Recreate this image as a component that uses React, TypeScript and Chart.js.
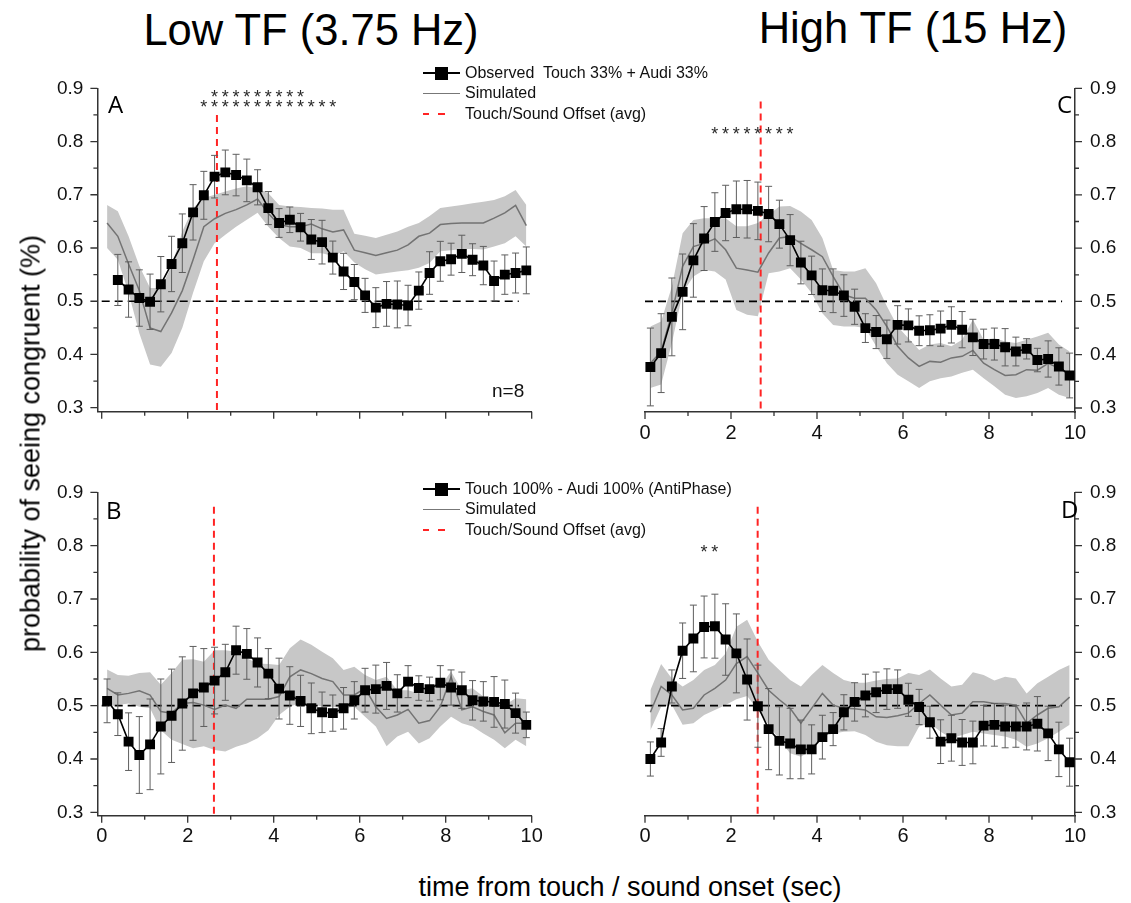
import React, { useEffect, useRef } from 'react';
import { Chart, registerables } from 'chart.js';

Chart.register(...registerables);

// ---------------- data ----------------
const timePoints = [0.125, 0.375, 0.625, 0.875, 1.125, 1.375, 1.625, 1.875, 2.125, 2.375,
  2.625, 2.875, 3.125, 3.375, 3.625, 3.875, 4.125, 4.375, 4.625, 4.875,
  5.125, 5.375, 5.625, 5.875, 6.125, 6.375, 6.625, 6.875, 7.125, 7.375,
  7.625, 7.875, 8.125, 8.375, 8.625, 8.875, 9.125, 9.375, 9.625, 9.875];

// Panel A: Low TF, Touch 33% + Audi 33%
const obsA = [null, 0.54, 0.522, 0.506, 0.499, 0.532, 0.57, 0.609, 0.667, 0.699,
  0.734, 0.742, 0.737, 0.727, 0.714, 0.675, 0.647, 0.653, 0.639, 0.616,
  0.611, 0.582, 0.556, 0.536, 0.511, 0.488, 0.495, 0.494, 0.492, 0.52,
  0.553, 0.575, 0.579, 0.589, 0.578, 0.567, 0.538, 0.55, 0.553, 0.558];
const errA = [null, 0.048, 0.052, 0.053, 0.052, 0.052, 0.052, 0.055, 0.052, 0.045,
  0.04, 0.042, 0.039, 0.04, 0.033, 0.031, 0.027, 0.024, 0.026, 0.0375,
  0.041, 0.031, 0.034, 0.033, 0.032, 0.0375, 0.042, 0.044, 0.038, 0.035,
  0.04, 0.0375, 0.03, 0.035, 0.03, 0.036, 0.0375, 0.037, 0.0375, 0.044];
const simA = [0.647, 0.622, 0.57, 0.52, 0.45, 0.443, 0.478, 0.52, 0.578, 0.64,
  0.655, 0.665, 0.672, 0.681, 0.692, 0.665, 0.644, 0.64, 0.64, 0.645,
  0.636, 0.63, 0.634, 0.596, 0.591, 0.586, 0.591, 0.596, 0.606, 0.622,
  0.628, 0.644, 0.646, 0.647, 0.647, 0.647, 0.656, 0.666, 0.68, 0.642];
const upA = [0.681, 0.669, 0.622, 0.566, 0.525, 0.525, 0.566, 0.631, 0.675, 0.694,
  0.70, 0.706, 0.712, 0.716, 0.712, 0.703, 0.681, 0.678, 0.677, 0.675,
  0.674, 0.672, 0.672, 0.627, 0.623, 0.619, 0.625, 0.631, 0.64, 0.647,
  0.66, 0.675, 0.678, 0.681, 0.684, 0.687, 0.69, 0.697, 0.709, 0.681];
const loA = [0.60, 0.578, 0.516, 0.44, 0.381, 0.377, 0.403, 0.45, 0.516, 0.575,
  0.609, 0.625, 0.64, 0.653, 0.666, 0.64, 0.619, 0.603, 0.60, 0.59,
  0.59, 0.585, 0.594, 0.573, 0.56, 0.55, 0.553, 0.556, 0.558, 0.563,
  0.572, 0.594, 0.596, 0.598, 0.598, 0.597, 0.603, 0.609, 0.622, 0.603];

// Panel C: High TF, Touch 33% + Audi 33%
const obsC = [0.377, 0.403, 0.471, 0.518, 0.577, 0.618, 0.649, 0.666, 0.673, 0.673,
  0.67, 0.664, 0.645, 0.615, 0.573, 0.549, 0.521, 0.52, 0.511, 0.49,
  0.45, 0.4425, 0.429, 0.456, 0.455, 0.445, 0.446, 0.449, 0.456, 0.447,
  0.4325, 0.42, 0.42, 0.414, 0.406, 0.411, 0.39, 0.392, 0.378, 0.361];
const errC = [0.073, 0.074, 0.073, 0.071, 0.069, 0.06, 0.055, 0.052, 0.053, 0.054,
  0.054, 0.052, 0.045, 0.048, 0.04, 0.036, 0.04, 0.041, 0.039, 0.033,
  0.027, 0.031, 0.036, 0.036, 0.031, 0.028, 0.029, 0.033, 0.034, 0.034,
  0.034, 0.028, 0.03, 0.035, 0.027, 0.019, 0.022, 0.034, 0.035, 0.042];
const simC = [0.384, 0.406, 0.478, 0.566, 0.603, 0.609, 0.6175, 0.597, 0.5625, 0.559,
  0.555, 0.591, 0.619, 0.622, 0.609, 0.597, 0.584, 0.547, 0.5125, 0.506,
  0.506, 0.484, 0.453, 0.416, 0.394, 0.378, 0.3875, 0.386, 0.394, 0.397,
  0.408, 0.384, 0.372, 0.361, 0.3625, 0.372, 0.371, 0.384, 0.375, 0.3625];
const upC = [0.453, 0.4625, 0.528, 0.628, 0.653, 0.656, 0.656, 0.656, 0.641, 0.641,
  0.647, 0.6625, 0.678, 0.679, 0.669, 0.653, 0.619, 0.559, 0.556, 0.556,
  0.5625, 0.534, 0.491, 0.453, 0.431, 0.409, 0.419, 0.422, 0.416, 0.428,
  0.466, 0.428, 0.431, 0.425, 0.422, 0.428, 0.434, 0.441, 0.419, 0.406];
const loC = [0.3375, 0.344, 0.422, 0.516, 0.547, 0.559, 0.556, 0.541, 0.484, 0.475,
  0.472, 0.553, 0.556, 0.5625, 0.541, 0.516, 0.478, 0.456, 0.453, 0.453,
  0.45, 0.416, 0.384, 0.3625, 0.35, 0.3375, 0.35, 0.356, 0.359, 0.366,
  0.372, 0.356, 0.341, 0.325, 0.319, 0.322, 0.328, 0.3375, 0.325, 0.319];

// Panel B: Low TF, Touch 100% - Audi 100% (AntiPhase)
const obsB = [0.509, 0.484, 0.4325, 0.4075, 0.4275, 0.461, 0.481, 0.504, 0.523, 0.534,
  0.547, 0.5625, 0.604, 0.597, 0.581, 0.56, 0.532, 0.519, 0.509, 0.495,
  0.4875, 0.486, 0.495, 0.51, 0.529, 0.531, 0.537, 0.523, 0.545, 0.533,
  0.531, 0.543, 0.534, 0.529, 0.51, 0.508, 0.507, 0.503, 0.486, 0.464];
const errB = [0.041, 0.04, 0.054, 0.072, 0.085, 0.089, 0.0875, 0.0875, 0.088, 0.073,
  0.0625, 0.0525, 0.045, 0.0475, 0.046, 0.047, 0.057, 0.054, 0.048, 0.0475,
  0.038, 0.034, 0.039, 0.035, 0.041, 0.045, 0.044, 0.035, 0.03, 0.023,
  0.0225, 0.032, 0.033, 0.034, 0.037, 0.037, 0.0475, 0.045, 0.0375, 0.024];
const simB = [0.5325, 0.52, 0.523, 0.528, 0.52, 0.489, 0.486, 0.504, 0.506, 0.501,
  0.493, 0.501, 0.495, 0.512, 0.512, 0.512, 0.517, 0.554, 0.567, 0.56,
  0.551, 0.545, 0.52, 0.52, 0.5325, 0.498, 0.476, 0.4825, 0.493, 0.467,
  0.472, 0.498, 0.554, 0.492, 0.498, 0.489, 0.4825, 0.449, 0.467, 0.467];
const upB = [0.568, 0.5575, 0.556, 0.561, 0.5625, 0.539, 0.561, 0.586, 0.587, 0.5825,
  0.604, 0.604, 0.601, 0.589, 0.579, 0.578, 0.576, 0.6075, 0.624, 0.614,
  0.601, 0.589, 0.567, 0.573, 0.5575, 0.548, 0.554, 0.529, 0.529, 0.523,
  0.529, 0.536, 0.564, 0.529, 0.5325, 0.517, 0.511, 0.501, 0.514, 0.512];
const loB = [0.498, 0.501, 0.504, 0.498, 0.495, 0.454, 0.436, 0.428, 0.42, 0.424,
  0.417, 0.414, 0.423, 0.429, 0.439, 0.454, 0.4825, 0.498, 0.506, 0.504,
  0.498, 0.498, 0.495, 0.498, 0.479, 0.461, 0.424, 0.442, 0.451, 0.429,
  0.439, 0.461, 0.479, 0.467, 0.461, 0.448, 0.436, 0.42, 0.436, 0.424];

// Panel D: High TF, Touch 100% - Audi 100% (AntiPhase)
const obsD = [0.4, 0.431, 0.536, 0.603, 0.626, 0.6475, 0.649, 0.624, 0.598, 0.549,
  0.499, 0.456, 0.434, 0.429, 0.418, 0.418, 0.441, 0.456, 0.4875, 0.507,
  0.519, 0.525, 0.531, 0.531, 0.511, 0.4975, 0.469, 0.4325, 0.439, 0.431,
  0.431, 0.4625, 0.464, 0.461, 0.461, 0.461, 0.466, 0.448, 0.418, 0.394];
const errD = [0.032, 0.026, 0.031, 0.052, 0.0625, 0.058, 0.06, 0.067, 0.074, 0.076,
  0.077, 0.076, 0.064, 0.066, 0.055, 0.046, 0.041, 0.031, 0.033, 0.036,
  0.04, 0.038, 0.038, 0.036, 0.031, 0.033, 0.03, 0.041, 0.043, 0.043,
  0.04, 0.038, 0.04, 0.04, 0.039, 0.044, 0.051, 0.051, 0.051, 0.045];
const simD = [0.4875, 0.536, 0.52, 0.492, 0.495, 0.52, 0.5325, 0.548, 0.579, 0.592,
  0.561, 0.529, 0.511, 0.495, 0.467, 0.495, 0.523, 0.501, 0.495, 0.494,
  0.492, 0.479, 0.478, 0.481, 0.486, 0.504, 0.52, 0.501, 0.4825, 0.486,
  0.5075, 0.5075, 0.504, 0.504, 0.501, 0.467, 0.4825, 0.495, 0.498, 0.516];
const upD = [0.529, 0.578, 0.551, 0.536, 0.548, 0.567, 0.576, 0.598, 0.648, 0.661,
  0.62, 0.586, 0.567, 0.548, 0.536, 0.5575, 0.576, 0.561, 0.548, 0.543,
  0.543, 0.547, 0.55, 0.551, 0.561, 0.5575, 0.568, 0.551, 0.536, 0.539,
  0.5625, 0.5575, 0.547, 0.554, 0.551, 0.523, 0.542, 0.554, 0.567, 0.576];
const loD = [0.454, 0.498, 0.501, 0.464, 0.467, 0.4825, 0.492, 0.501, 0.512, 0.518,
  0.492, 0.464, 0.436, 0.411, 0.404, 0.417, 0.442, 0.448, 0.451, 0.452,
  0.445, 0.4325, 0.426, 0.424, 0.424, 0.461, 0.467, 0.451, 0.439, 0.445,
  0.451, 0.448, 0.445, 0.442, 0.436, 0.423, 0.429, 0.439, 0.451, 0.464];

// significance asterisks (x positions and level)
const starsA_low = [2.375, 2.625, 2.875, 3.125, 3.375, 3.625, 3.875, 4.125, 4.375, 4.625, 4.875, 5.125, 5.375];
const starsA_high = [2.625, 2.875, 3.125, 3.375, 3.625, 3.875, 4.125, 4.375, 4.625];
const starsC = [1.625, 1.875, 2.125, 2.375, 2.625, 2.875, 3.125, 3.375];
const starsD = [1.375, 1.625];

// touch/sound offset (avg) positions
const offsetA = 2.68;
const offsetB = 2.61;
const offsetC = 2.69;
const offsetD = 2.62;

const chanceLevel = 0.5;
const chanceStart = 0;
const chanceEnd = 9.7;

const xMajorTicks = [0, 2, 4, 6, 8, 10];
const xMinorTicks = [1, 3, 5, 7, 9];
const yMajorTicks = [0.3, 0.4, 0.5, 0.6, 0.7, 0.8, 0.9];
const yMinorTicks = [0.35, 0.45, 0.55, 0.65, 0.75, 0.85];

// ---------------- drawing ----------------
const SANS = '"Liberation Sans", Arial, Helvetica, sans-serif';
const LETTER = '"Open Sans", "DejaVu Sans", sans-serif';

type StarRow = { xs: number[]; y: number };
type PanelCfg = {
  left: number; top: number; w: number; h: number;
  padLeft: number; padRight: number; padTop: number;
  yWidth: number; xHeight: number;
  side: 'left' | 'right';
  xMin: number; yMin: number;
  showXLabels: boolean;
  obs: (number | null)[]; err: (number | null)[];
  sim: number[]; up: number[]; lo: number[];
  offset: number; offsetTop: number;
  stars: StarRow[];
};

function Panel({ cfg }: { cfg: PanelCfg }) {
  const ref = useRef<HTMLCanvasElement>(null);
  useEffect(() => {
    const canvas = ref.current;
    if (!canvas) return;
    const pts = (arr: (number | null)[]) => timePoints.map((x, i) => ({ x, y: arr[i] }));

    const decor = {
      id: 'decor',
      afterDatasetDraw(chart: any, args: any) {
        if (args.index !== 1) return;
        const { ctx } = chart;
        const x = chart.scales.x, y = chart.scales.y;
        ctx.save();
        ctx.strokeStyle = '#5e5e5e';
        ctx.lineWidth = 1;
        cfg.obs.forEach((v, i) => {
          const e = cfg.err[i];
          if (v == null || e == null) return;
          const px = x.getPixelForValue(timePoints[i]);
          const pt = y.getPixelForValue(v + e);
          const pb = y.getPixelForValue(v - e);
          ctx.beginPath();
          ctx.moveTo(px, pt); ctx.lineTo(px, pb);
          ctx.moveTo(px - 3.5, pt); ctx.lineTo(px + 3.5, pt);
          ctx.moveTo(px - 3.5, pb); ctx.lineTo(px + 3.5, pb);
          ctx.stroke();
        });
        ctx.restore();
      },
      afterDraw(chart: any) {
        const { ctx, chartArea } = chart;
        const x = chart.scales.x, y = chart.scales.y;
        ctx.save();
        ctx.strokeStyle = '#333';
        ctx.lineWidth = 1.3;
        ctx.beginPath();
        xMajorTicks.forEach((t) => {
          const p = x.getPixelForValue(t);
          ctx.moveTo(p, chartArea.bottom); ctx.lineTo(p, chartArea.bottom + 7);
        });
        xMinorTicks.forEach((t) => {
          const p = x.getPixelForValue(t);
          ctx.moveTo(p, chartArea.bottom); ctx.lineTo(p, chartArea.bottom + 4);
        });
        const ax = cfg.side === 'left' ? chartArea.left : chartArea.right;
        const dir = cfg.side === 'left' ? -1 : 1;
        yMajorTicks.forEach((t) => {
          const p = y.getPixelForValue(t);
          ctx.moveTo(ax, p); ctx.lineTo(ax + dir * 7, p);
        });
        yMinorTicks.forEach((t) => {
          const p = y.getPixelForValue(t);
          ctx.moveTo(ax, p); ctx.lineTo(ax + dir * 4, p);
        });
        ctx.stroke();
        // asterisks
        ctx.fillStyle = '#2a2a2a';
        ctx.font = '18px ' + SANS;
        ctx.textAlign = 'center';
        ctx.textBaseline = 'alphabetic';
        cfg.stars.forEach((row) => {
          const py = y.getPixelForValue(row.y);
          row.xs.forEach((sx) => {
            ctx.fillText('*', x.getPixelForValue(sx), py + 10);
          });
        });
        ctx.restore();
      },
    };

    const chart = new Chart(canvas, {
      type: 'line',
      data: {
        datasets: [
          {
            label: 'Observed',
            data: pts(cfg.obs),
            borderColor: '#000',
            backgroundColor: '#000',
            borderWidth: 1.6,
            pointStyle: 'rect',
            pointRadius: 7,
            pointBorderWidth: 0,
            pointBackgroundColor: '#000',
            tension: 0,
            spanGaps: false,
          },
          {
            label: 'Simulated',
            data: pts(cfg.sim),
            borderColor: '#737373',
            borderWidth: 1.5,
            pointRadius: 0,
            tension: 0,
          },
          {
            label: 'Touch/Sound Offset (avg)',
            data: [{ x: cfg.offset, y: cfg.offsetTop }, { x: cfg.offset, y: cfg.yMin }],
            borderColor: '#ff2323',
            borderWidth: 2,
            borderDash: [7, 5],
            pointRadius: 0,
          },
          {
            label: 'chance',
            data: [{ x: chanceStart, y: chanceLevel }, { x: chanceEnd, y: chanceLevel }],
            borderColor: '#000',
            borderWidth: 1.7,
            borderDash: [8, 5],
            pointRadius: 0,
          },
          {
            label: 'band upper',
            data: pts(cfg.up),
            borderWidth: 0,
            borderColor: 'rgba(0,0,0,0)',
            backgroundColor: '#c7c7c7',
            pointRadius: 0,
            fill: '+1',
            tension: 0,
          },
          {
            label: 'band lower',
            data: pts(cfg.lo),
            borderWidth: 0,
            borderColor: 'rgba(0,0,0,0)',
            pointRadius: 0,
            fill: false,
            tension: 0,
          },
        ],
      } as any,
      options: {
        responsive: false,
        animation: false,
        devicePixelRatio: 1,
        events: [],
        layout: { padding: { left: cfg.padLeft, right: cfg.padRight, top: cfg.padTop, bottom: 0 } },
        plugins: { legend: { display: false }, tooltip: { enabled: false } },
        scales: {
          x: {
            type: 'linear',
            position: 'bottom',
            min: cfg.xMin,
            max: 10,
            border: { display: true, color: '#333', width: 1.5 },
            grid: { display: false, drawTicks: true, tickLength: 7 },
            ticks: {
              display: cfg.showXLabels,
              stepSize: 2,
              includeBounds: false,
              autoSkip: false,
              maxRotation: 0,
              padding: 2,
              color: '#111',
              font: { family: SANS, size: 20 },
              callback: (v: any) => String(Math.round(Number(v))),
            },
            afterFit: (s: any) => { s.height = cfg.xHeight; },
          },
          y: {
            type: 'linear',
            position: cfg.side,
            min: cfg.yMin,
            max: 0.9,
            border: { display: true, color: '#333', width: 1.5 },
            grid: { display: false, drawTicks: true, tickLength: 7 },
            ticks: {
              stepSize: 0.1,
              includeBounds: false,
              autoSkip: false,
              padding: cfg.side === 'left' ? 7 : 8,
              color: '#111',
              font: { family: SANS, size: 19 },
              callback: (v: any) => Number(v).toFixed(1),
            },
            afterFit: (s: any) => { s.width = cfg.yWidth; },
          },
        },
      } as any,
      plugins: [decor as any],
    });
    return () => chart.destroy();
  }, []);
  return (
    <canvas
      ref={ref}
      width={cfg.w}
      height={cfg.h}
      style={{ position: 'absolute', left: cfg.left, top: cfg.top, width: cfg.w, height: cfg.h }}
    />
  );
}

const panelA: PanelCfg = {
  left: 0, top: 60, w: 560, h: 390, padLeft: 0, padRight: 28.3, padTop: 28.3,
  yWidth: 97.4, xHeight: 38.3, side: 'left', xMin: -0.1, yMin: 0.2925, showXLabels: false,
  obs: obsA, err: errA, sim: simA, up: upA, lo: loA, offset: offsetA, offsetTop: 0.85,
  stars: [{ xs: starsA_low, y: 0.872 }, { xs: starsA_high, y: 0.892 }],
};
const panelC: PanelCfg = {
  left: 600, top: 60, w: 531, h: 390, padLeft: 45, padRight: 0, padTop: 28.3,
  yWidth: 56, xHeight: 38, side: 'right', xMin: 0, yMin: 0.2925, showXLabels: true,
  obs: obsC, err: errC, sim: simC, up: upC, lo: loC, offset: offsetC, offsetTop: 0.875,
  stars: [{ xs: starsC, y: 0.822 }],
};
const panelB: PanelCfg = {
  left: 0, top: 460, w: 560, h: 400, padLeft: 0, padRight: 28.3, padTop: 32.3,
  yWidth: 97.4, xHeight: 44.2, side: 'left', xMin: -0.1, yMin: 0.2935, showXLabels: true,
  obs: obsB, err: errB, sim: simB, up: upB, lo: loB, offset: offsetB, offsetTop: 0.873,
  stars: [],
};
const panelD: PanelCfg = {
  left: 600, top: 460, w: 531, h: 400, padLeft: 45, padRight: 0, padTop: 32.3,
  yWidth: 56, xHeight: 44.2, side: 'right', xMin: 0, yMin: 0.2935, showXLabels: true,
  obs: obsD, err: errD, sim: simD, up: upD, lo: loD, offset: offsetD, offsetTop: 0.873,
  stars: [{ xs: starsD, y: 0.795 }],
};

function Legend({ left, top, first }: { left: number; top: number; first: string }) {
  const row = (y: number): React.CSSProperties => ({
    position: 'absolute', left: 45, top: y - 10, height: 20, lineHeight: '20px',
    fontFamily: SANS, fontSize: 16, color: '#111', whiteSpace: 'pre',
  });
  return (
    <div style={{ position: 'absolute', left, top, width: 320, height: 64, background: '#fff' }}>
      <div style={{ position: 'absolute', left: 3, top: 14, width: 37, height: 2, background: '#000' }} />
      <div style={{ position: 'absolute', left: 15, top: 8.5, width: 13, height: 13, background: '#000' }} />
      <div style={row(15)}>{first}</div>
      <div style={{ position: 'absolute', left: 3, top: 34.5, width: 37, height: 1.5, background: '#777' }} />
      <div style={row(35)}>Simulated</div>
      <div style={{ position: 'absolute', left: 3, top: 55, width: 6, height: 2, background: '#ff2323' }} />
      <div style={{ position: 'absolute', left: 18, top: 55, width: 7, height: 2, background: '#ff2323' }} />
      <div style={row(56)}>Touch/Sound Offset (avg)</div>
    </div>
  );
}

const abs = (s: React.CSSProperties): React.CSSProperties => ({ position: 'absolute', whiteSpace: 'nowrap', ...s });

export default function App() {
  return (
    <div style={{ position: 'absolute', left: 0, top: 0, width: 1131, height: 903, background: '#fff', overflow: 'hidden' }}>
      <Panel cfg={panelA} />
      <Panel cfg={panelC} />
      <Panel cfg={panelB} />
      <Panel cfg={panelD} />

      <div style={abs({ left: 11, top: 9, width: 600, textAlign: 'center', fontFamily: SANS, fontSize: 43.5, lineHeight: '43.5px', color: '#000' })}>Low TF (3.75 Hz)</div>
      <div style={abs({ left: 613, top: 7, width: 600, textAlign: 'center', fontFamily: SANS, fontSize: 43.5, lineHeight: '43.5px', color: '#000' })}>High TF (15 Hz)</div>

      <div style={abs({ left: 30.5 - 250, top: 443 - 13.5, width: 500, height: 27, textAlign: 'center', fontFamily: SANS, fontSize: 27, lineHeight: '27px', color: '#000', transform: 'rotate(-90deg)' })}>probability of seeing congruent (%)</div>
      <div style={abs({ left: 330, top: 874, width: 600, textAlign: 'center', fontFamily: SANS, fontSize: 27, lineHeight: '27px', color: '#000' })}>time from touch / sound onset (sec)</div>

      <div style={abs({ left: 108, top: 92, fontFamily: LETTER, fontSize: 24, lineHeight: '24px', color: '#000' })}>A</div>
      <div style={abs({ left: 106, top: 497.7, fontFamily: LETTER, fontSize: 24, lineHeight: '24px', color: '#000' })}>B</div>
      <div style={abs({ left: 1057, top: 91.7, fontFamily: LETTER, fontSize: 24, lineHeight: '24px', color: '#000' })}>C</div>
      <div style={abs({ left: 1061, top: 496.7, fontFamily: LETTER, fontSize: 24, lineHeight: '24px', color: '#000' })}>D</div>

      <div style={abs({ left: 492, top: 381, fontFamily: SANS, fontSize: 19, lineHeight: '19px', color: '#111' })}>n=8</div>

      <Legend left={420} top={58} first="Observed  Touch 33% + Audi 33%" />
      <Legend left={420} top={474} first="Touch 100% - Audi 100% (AntiPhase)" />
    </div>
  );
}
